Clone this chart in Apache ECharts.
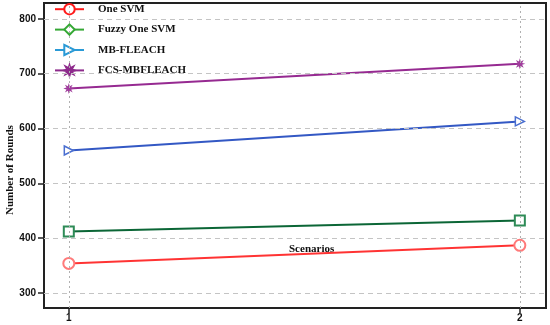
<!DOCTYPE html>
<html><head><meta charset="utf-8">
<script src="https://cdn.jsdelivr.net/npm/echarts@6/dist/echarts.min.js"></script>
<style>html,body{margin:0;padding:0;background:#fff}#c{width:550px;height:325px}</style>
</head><body><div id="c"></div>
<script>
var scenarios = [1, 2];
var oneSVM = [354, 387];
var fuzzyOneSVM = [412, 432];
var mbFleach = [560, 613];
var fcsMbfleach = [673, 718];
var yTicks = [300, 400, 500, 600, 700, 800];
var seriesNames = ['One SVM', 'Fuzzy One SVM', 'MB-FLEACH', 'FCS-MBFLEACH'];

function pairs(vals){ return scenarios.map(function(s,i){ return [s, vals[i]]; }); }
function starPath(n, ro, ri){
  var p = [];
  for (var i = 0; i < 2*n; i++){
    var r = i % 2 === 0 ? ro : ri;
    var a = Math.PI * i / n - Math.PI/2;
    p.push((i===0?'M':'L') + (10 + r*Math.cos(a)).toFixed(2) + ',' + (10 + r*Math.sin(a)).toFixed(2));
  }
  return 'path://' + p.join(' ') + ' Z';
}
var star = starPath(8, 10, 4.5);
var triRight = 'path://M0,0 L10,5 L0,10 Z';

// legend-only entries (first series with a name defines the legend icon)
var legendStyles = [
  {symbol: 'emptyCircle', size: 10, color: '#ff1a1a'},
  {symbol: 'emptyDiamond', size: 13, color: '#35a835'},
  {symbol: triRight, size: 10, color: '#2a9ad6', fill: '#fff'},
  {symbol: star, size: 13, color: '#8e2a8c', fill: '#8e2a8c'}
];

var legendSeries = seriesNames.map(function(n, i){
  var s = legendStyles[i];
  return {type: 'line', name: n, data: [], symbol: s.symbol, symbolSize: s.size,
    lineStyle: {color: s.color, width: 2},
    itemStyle: {color: s.fill || s.color, borderColor: s.color, borderWidth: 1.5}};
});

var chart = echarts.init(document.getElementById('c'));
chart.setOption({
  animation: false,
  backgroundColor: '#fff',
  grid: {left: 44, right: 4, top: 3, bottom: 17, show: true, borderColor: '#222', borderWidth: 2, containLabel: false},
  legend: {
    orient: 'vertical', left: 49, top: -2, itemWidth: 29, itemHeight: 13, itemGap: 8,
    textStyle: {fontFamily: 'Liberation Serif', fontWeight: 'bold', fontSize: 11, lineHeight: 11, color: '#111', padding: [0,0,0,9]},
    data: seriesNames
  },
  xAxis: {
    type: 'value', min: 0.945, max: 2.058,
    axisLine: {show: true, lineStyle: {color: '#222', width: 2}},
    axisTick: {show: true, customValues: scenarios, length: 5, lineStyle: {color: '#222', width: 1.5}},
    axisLabel: {customValues: scenarios, color: '#111', fontWeight: 'bold', fontFamily: 'Liberation Sans', fontSize: 10, margin: 5},
    splitLine: {show: false}
  },
  yAxis: {
    type: 'value', min: 272.6, max: 829,
    axisLine: {show: true, lineStyle: {color: '#222', width: 2}},
    axisTick: {show: true, customValues: yTicks, length: 6, lineStyle: {color: '#222', width: 1.5}},
    axisLabel: {customValues: yTicks, color: '#111', fontWeight: 'bold', fontFamily: 'Liberation Sans', fontSize: 10, margin: 8},
    splitLine: {show: false}
  },
  graphic: [
    {type: 'text', rotation: Math.PI/2, x: 5, y: 215, style: {text: 'Number of Rounds', font: 'bold 11px "Liberation Serif"', fill: '#111'}},
    {type: 'text', x: 289, y: 244, style: {text: 'Scenarios', font: 'bold 11px "Liberation Serif"', fill: '#111'}}
  ],
  series: legendSeries.concat([
    {type: 'line', name: '__grid', data: [], z: 1, silent: true,
      markLine: {silent: true, symbol: 'none', label: {show: false}, animation: false,
        data: yTicks.map(function(v){ return {yAxis: v, lineStyle: {color: '#c4c4c4', type: [5,4], width: 1}}; })
          .concat(scenarios.map(function(v){ return {xAxis: v, lineStyle: {color: '#b0b0b0', type: [2,3], width: 1}}; }))}
    },
    {type: 'line', name: seriesNames[0], data: pairs(oneSVM), symbol: 'emptyCircle', symbolSize: 11, z: 3,
      lineStyle: {color: '#ff3333', width: 2}, itemStyle: {color: '#ff7a7a', borderWidth: 1.5}},
    {type: 'line', name: seriesNames[1], data: pairs(fuzzyOneSVM), symbol: 'emptyRect', symbolSize: 10, z: 3,
      lineStyle: {color: '#0b6636', width: 2}, itemStyle: {color: '#2e8b57', borderWidth: 1.5}},
    {type: 'line', name: seriesNames[2], data: pairs(mbFleach), symbol: triRight, symbolSize: 9, z: 3,
      lineStyle: {color: '#3358c4', width: 2}, itemStyle: {color: '#fff', borderColor: '#4a6fd0', borderWidth: 1.5}},
    {type: 'line', name: seriesNames[3], data: pairs(fcsMbfleach), symbol: star, symbolSize: 11, z: 3,
      lineStyle: {color: '#962a91', width: 2}, itemStyle: {color: '#a03c9c'}}
  ])
});
</script></body></html>
